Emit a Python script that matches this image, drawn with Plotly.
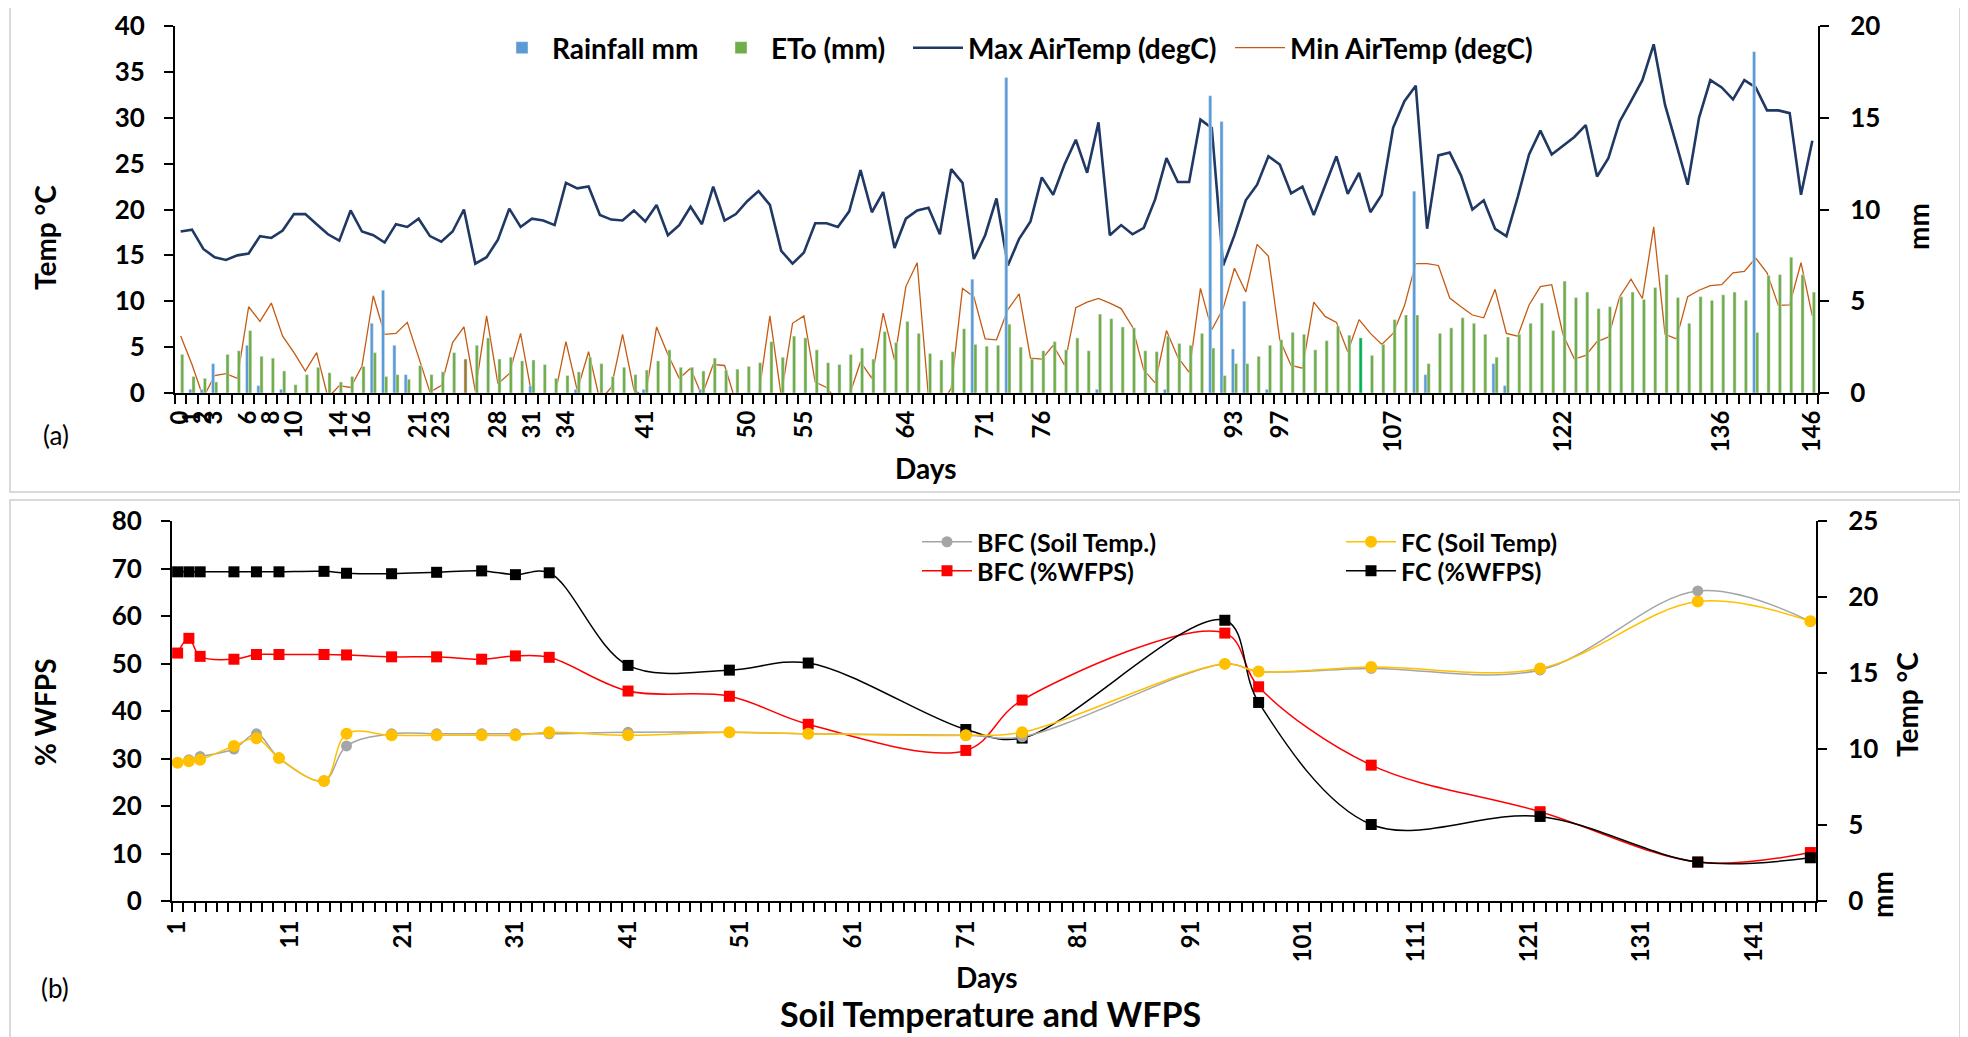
import plotly.graph_objects as go

# ---------------- Panel (a) data: daily weather (category index 0..144) ----------------
cat_idx = list(range(145))

rainfall_mm = [0, 0.2, 0.2, 1.6, 0, 0, 2.6, 0.4, 0, 0.2,
               0, 0, 0, 0, 0, 0, 0, 3.8, 5.6, 2.6,
               1.0, 0, 0, 0, 0, 0, 0, 0, 0, 0,
               0, 0.4, 0, 0, 0, 0.2, 0, 0, 0, 0,
               0, 0.2, 0, 0, 0, 0, 0.2, 0, 0, 0,
               0, 0, 0, 0, 0, 0, 0, 0, 0, 0,
               0, 0, 0, 0, 0, 0, 0, 0, 0, 0,
               6.2, 0, 0, 17.2, 0, 0, 0, 0, 0, 0,
               0, 0.2, 0, 0, 0, 0, 0, 0.2, 0, 0,
               0, 16.2, 14.8, 2.4, 5.0, 0, 0.2, 0, 0, 0,
               0, 0, 0, 0, 0, 0, 0, 0, 0, 11.0,
               1.0, 0, 0, 0, 0, 0, 1.6, 0.4, 0, 0,
               0, 0, 0, 0, 0, 0, 0, 0, 0, 0,
               0, 0, 0, 0, 0, 0, 0, 0, 0, 18.6,
               0, 0, 0, 0, 0]

eto_mm = [2.1, 0.9, 0.8, 0.6, 2.1, 2.3, 3.4, 2.0, 1.9, 1.2,
          0.45, 1.0, 1.4, 1.1, 0.6, 0.9, 1.45, 2.2, 0.9, 1.0,
          0.75, 1.5, 1.0, 1.15, 2.2, 1.85, 2.6, 3.0, 1.85, 1.95,
          1.75, 1.8, 1.55, 0.8, 0.95, 1.15, 1.95, 1.6, 0.9, 1.4,
          1.0, 1.25, 1.75, 2.35, 1.4, 1.4, 1.2, 1.9, 1.25, 1.3,
          1.45, 1.65, 2.8, 1.95, 3.1, 3.0, 2.35, 1.65, 1.55, 2.1,
          2.45, 1.85, 3.35, 2.75, 3.9, 3.25, 2.15, 1.8, 2.25, 3.5,
          2.65, 2.55, 2.6, 3.75, 2.5, 1.85, 2.3, 2.8, 2.35, 3.0,
          2.3, 4.3, 4.05, 3.6, 3.55, 2.3, 2.25, 3.1, 2.7, 2.6,
          3.25, 2.45, 0.95, 1.6, 1.6, 2.0, 2.6, 2.9, 3.3, 3.2,
          2.35, 2.85, 3.65, 3.15, 3.0, 2.05, 2.65, 4.0, 4.25, 4.25,
          1.6, 3.25, 3.55, 4.1, 3.8, 3.2, 1.95, 3.05, 3.2, 3.8,
          4.9, 3.4, 6.1, 5.2, 5.5, 4.6, 4.7, 5.25, 5.5, 5.1,
          5.75, 6.45, 5.2, 3.8, 5.25, 5.05, 5.35, 5.5, 5.05, 3.3,
          6.4, 6.45, 7.4, 6.45, 5.5]

max_air_temp = [17.6, 17.8, 15.7, 14.8, 14.5, 15.0, 15.2, 17.1, 16.9, 17.7,
                19.5, 19.5, 18.4, 17.3, 16.6, 19.9, 17.6, 17.2, 16.4, 18.4,
                18.1, 19.0, 17.1, 16.5, 17.6, 20.0, 14.1, 14.8, 16.7, 20.1,
                18.1, 19.0, 18.8, 18.3, 22.9, 22.3, 22.5, 19.4, 18.9, 18.8,
                19.9, 18.7, 20.5, 17.2, 18.3, 20.3, 18.4, 22.5, 18.8, 19.5,
                20.9, 22.0, 20.5, 15.5, 14.1, 15.3, 18.5, 18.5, 18.1, 19.8,
                24.3, 19.7, 21.9, 15.8, 19.0, 19.9, 20.2, 17.3, 24.4, 22.9,
                14.6, 17.2, 21.2, 13.9, 16.8, 18.7, 23.5, 21.6, 24.9, 27.6,
                24.0, 29.5, 17.2, 18.3, 17.3, 18.0, 21.1, 25.6, 23.0, 23.0,
                29.8, 28.9, 13.9, 17.2, 21.0, 22.7, 25.8, 24.9, 21.75, 22.5,
                19.4, 22.6, 25.8, 21.7, 24.0, 19.7, 21.6, 28.9, 31.8, 33.5,
                17.9, 25.9, 26.2, 23.7, 20.0, 21.0, 17.9, 17.1, 21.35, 26.0,
                28.6, 26.0, 26.9, 27.9, 29.2, 23.6, 25.6, 29.6, 31.8, 34.1,
                38.0, 31.4, 27.1, 22.7, 30.0, 34.1, 33.3, 32.0, 34.1, 33.3,
                30.8, 30.8, 30.5, 21.6, 27.5]

min_air_temp = [6.2, 3.1, -0.5, 1.9, 2.1, 1.6, 9.4, 7.8, 9.8, 6.2,
                4.4, 2.4, 4.4, -0.5, 0.8, 0.6, 2.9, 10.6, 6.4, 6.5,
                7.7, 4.0, 0.1, 0.8, 5.5, 7.2, 0.2, 8.4, 1.0, 2.1,
                6.5, -0.3, -1.0, -0.4, 5.6, 0.3, 4.5, -0.8, 0.6, 6.4,
                0.35, -0.5, 7.2, 4.2, 1.6, 2.7, -0.3, 3.1, 3.0, -1.0,
                -1.5, -0.3, 8.4, -0.3, 7.6, 8.4, 1.2, 0.6, -1.0, -0.3,
                3.4, 1.6, 8.7, 3.6, 11.6, 14.2, -0.5, -1.5, 0.5, 11.4,
                10.5, 5.9, 5.8, 9.1, 10.8, 3.8, 3.7, 5.2, 3.05, 9.3,
                9.9, 10.3, 9.8, 9.2, 7.2, 2.5, 1.1, 6.8, 3.9, 2.25,
                11.4, 6.9, 9.2, 13.6, 11.0, 16.2, 14.9, 5.8, 3.0, 2.7,
                9.9, 8.35, 7.7, 4.5, 8.0, 6.5, 5.3, 6.5, 9.5, 14.1,
                14.1, 13.9, 10.35, 9.4, 8.5, 8.2, 11.3, 6.5, 6.2, 9.6,
                11.6, 11.8, 6.35, 3.7, 4.1, 5.6, 6.1, 10.5, 12.4, 10.3,
                18.1, 6.4, 5.9, 10.5, 11.2, 11.7, 11.8, 13.1, 13.25, 14.7,
                13.1, 9.55, 9.6, 14.2, 8.4]

top_tick_idx = [0, 1, 2, 3, 6, 8, 10, 14, 16, 21, 23, 28, 31, 34, 41, 50, 55, 64,
                71, 76, 93, 97, 107, 122, 136, 144]
top_tick_text = ["0", "1", "2", "3", "6", "8", "10", "14", "16", "21", "23", "28", "31",
                 "34", "41", "50", "55", "64", "71", "76", "93", "97", "107", "122",
                 "136", "146"]

# ---------------- Panel (b) data: sampling days ----------------
sample_days = [1, 2, 3, 6, 8, 10, 14, 16, 20, 24, 28, 31, 34, 41, 50, 57, 71, 76,
               94, 97, 107, 122, 136, 146]
bfc_soil_temp = [9.1, 9.3, 9.5, 10.0, 11.0, 9.4, 7.9, 10.2, 11.0, 11.0, 11.0, 11.0,
                 11.0, 11.1, 11.1, 11.0, 10.9, 10.8, 15.6, 15.1, 15.3, 15.2, 20.4, 18.4]
fc_soil_temp = [9.1, 9.2, 9.3, 10.2, 10.7, 9.4, 7.9, 11.0, 10.9, 10.9, 10.9, 10.9,
                11.1, 10.9, 11.1, 11.0, 10.9, 11.1, 15.6, 15.1, 15.4, 15.3, 19.7, 18.4]
bfc_wfps = [52.2, 55.3, 51.5, 50.9, 51.9, 51.9, 51.9, 51.8, 51.4, 51.4, 50.9, 51.6,
            51.3, 44.2, 43.1, 37.2, 31.7, 42.3, 56.4, 45.1, 28.6, 18.8, 8.2, 10.2]
fc_wfps = [69.3, 69.3, 69.3, 69.3, 69.3, 69.3, 69.4, 69.0, 68.9, 69.2, 69.5, 68.7,
           69.1, 49.6, 48.6, 50.1, 36.1, 34.3, 59.1, 41.8, 16.1, 17.8, 8.2, 9.1]

# ---------------- styling ----------------
# The page body has an 8 px default margin, so the figure is drawn 8 px in from
# the window's top-left corner; positions below are given in window pixels.
OFF = 8
W, H = 1968 - OFF, 1037 - OFF
FONT = "Lato"
BLUE = "#5B9BD5"
GREEN = "#70AD47"
eto_colors = [GREEN] * len(eto_mm)
eto_colors[25] = "#9A7A30"
eto_colors[104] = "#00B050"


def fx(p):
    return (p - OFF) / W


def fy(p):
    return 1 - (p - OFF) / H


fig = go.Figure()

# Panel (a)
fig.add_trace(go.Bar(x=cat_idx, y=rainfall_mm, name="Rainfall mm", marker_color=BLUE,
                     xaxis="x", yaxis="y2", legend="legend"))
fig.add_trace(go.Bar(x=cat_idx, y=eto_mm, name="ETo (mm)", marker_color=eto_colors,
                     xaxis="x", yaxis="y2", legend="legend2"))
fig.add_trace(go.Scatter(x=cat_idx, y=max_air_temp, name="Max AirTemp (degC)", mode="lines",
                         line=dict(color="#203864", width=2.6), xaxis="x", yaxis="y",
                         legend="legend3"))
fig.add_trace(go.Scatter(x=cat_idx, y=min_air_temp, name="Min AirTemp (degC)", mode="lines",
                         line=dict(color="#C55A11", width=1.3), xaxis="x", yaxis="y",
                         legend="legend4"))

# Panel (b)
fig.add_trace(go.Scatter(x=sample_days, y=bfc_wfps, name="BFC (%WFPS)", mode="lines+markers",
                         line=dict(color="#FF0000", width=1.5, shape="spline", smoothing=1),
                         marker=dict(symbol="square", size=11, color="#FF0000"),
                         xaxis="x2", yaxis="y3", legend="legend7"))
fig.add_trace(go.Scatter(x=sample_days, y=fc_wfps, name="FC (%WFPS)", mode="lines+markers",
                         line=dict(color="#000000", width=1.5, shape="spline", smoothing=1),
                         marker=dict(symbol="square", size=11, color="#000000"),
                         xaxis="x2", yaxis="y3", legend="legend8"))
fig.add_trace(go.Scatter(x=sample_days, y=bfc_soil_temp, name="BFC (Soil Temp.)",
                         mode="lines+markers",
                         line=dict(color="#A5A5A5", width=1.5, shape="spline", smoothing=1),
                         marker=dict(symbol="circle", size=11, color="#A5A5A5"),
                         xaxis="x2", yaxis="y4", legend="legend5"))
fig.add_trace(go.Scatter(x=sample_days, y=fc_soil_temp, name="FC (Soil Temp)",
                         mode="lines+markers",
                         line=dict(color="#FFC000", width=1.5, shape="spline", smoothing=1),
                         marker=dict(symbol="circle", size=12, color="#FFC000"),
                         xaxis="x2", yaxis="y4", legend="legend6"))

ytickfont = dict(family=FONT, size=26, color="black", weight="bold")
xtickfont = dict(family=FONT, size=24, color="black", weight="bold")
ax_common = dict(showgrid=False, zeroline=False, showline=True, linecolor="black",
                 linewidth=2, automargin=False)
yax_common = dict(ax_common, ticks="outside", ticklen=9, tickwidth=2, tickcolor="black",
                  tickfont=ytickfont)


def one_legend(xpix, ypix, size):
    return dict(orientation="v", x=fx(xpix), y=fy(ypix), xanchor="left", yanchor="middle",
                font=dict(family=FONT, size=size, color="black", weight="bold"),
                itemwidth=50, bgcolor="rgba(0,0,0,0)", borderwidth=0, visible=True)


fig.update_layout(
    width=W, height=H,
    showlegend=True,
    margin=dict(l=0, r=0, t=0, b=0, autoexpand=False),
    paper_bgcolor="white", plot_bgcolor="white",
    barmode="group", bargap=0.45, bargroupgap=0,
    xaxis=dict(ax_common, domain=[fx(175), fx(1818)], anchor="y", range=[-0.5, 144.5],
               tickmode="array", tickvals=top_tick_idx, ticktext=top_tick_text,
               tickangle=-90, ticks="", ticklabelstandoff=6, tickfont=xtickfont,
               minor=dict(ticks="outside", tickmode="linear", tick0=-0.5, dtick=1,
                          ticklen=9, tickwidth=2, tickcolor="black")),
    yaxis=dict(yax_common, domain=[fy(393), fy(26)], anchor="x", range=[0, 40], dtick=5,
               ticklabelstandoff=14),
    yaxis2=dict(yax_common, overlaying="y", side="right", anchor="x", range=[0, 20],
                dtick=5, ticklabelstandoff=16),
    xaxis2=dict(ax_common, domain=[fx(172), fx(1816)], anchor="y3", range=[0.5, 146.5],
                tickmode="linear", tick0=1, dtick=10, tickangle=-90, ticks="",
                ticklabelstandoff=8, tickfont=xtickfont,
                minor=dict(ticks="outside", tickmode="linear", tick0=0.5, dtick=1,
                           ticklen=9, tickwidth=2, tickcolor="black")),
    yaxis3=dict(yax_common, domain=[fy(901), fy(521)], anchor="x2", range=[0, 80], dtick=10,
                ticklabelstandoff=14),
    yaxis4=dict(yax_common, overlaying="y3", side="right", anchor="x2", range=[0, 25],
                dtick=5, ticklabelstandoff=16),
    legend=one_legend(492, 48, 28),
    legend2=one_legend(711, 48, 28),
    legend3=one_legend(908, 48, 28),
    legend4=one_legend(1230, 48, 28),
    legend5=one_legend(917, 542, 25),
    legend6=one_legend(1341, 542, 25),
    legend7=one_legend(917, 571, 25),
    legend8=one_legend(1341, 571, 25),
    shapes=[
        dict(type="rect", xref="paper", yref="paper", x0=fx(10), x1=fx(1960),
             y0=fy(492), y1=fy(7), line=dict(color="#D9D9D9", width=2)),
        dict(type="rect", xref="paper", yref="paper", x0=fx(10), x1=fx(1960),
             y0=fy(1045), y1=fy(500), line=dict(color="#D9D9D9", width=2)),
    ],
)

bold = dict(family=FONT, color="black", weight="bold")
annos = [
    dict(text="Temp °C", x=fx(45), y=fy(238), textangle=-90, font=dict(bold, size=28)),
    dict(text="mm", x=fx(1918), y=fy(227), textangle=-90, font=dict(bold, size=28)),
    dict(text="Days", x=fx(926), y=fy(468), font=dict(bold, size=28)),
    dict(text="(a)", x=fx(56), y=fy(435), font=dict(family=FONT, color="black", size=26)),
    dict(text="% WFPS", x=fx(45), y=fy(712), textangle=-90, font=dict(bold, size=28)),
    dict(text="Temp °C", x=fx(1907), y=fy(705), textangle=-90, font=dict(bold, size=28)),
    dict(text="mm", x=fx(1882), y=fy(895), textangle=-90, font=dict(bold, size=28)),
    dict(text="Days", x=fx(987), y=fy(977), font=dict(bold, size=28)),
    dict(text="(b)", x=fx(55), y=fy(988), font=dict(family=FONT, color="black", size=26)),
    dict(text="Soil Temperature and WFPS", x=fx(990), y=fy(1013), font=dict(bold, size=34)),
]
for a in annos:
    a.update(xref="paper", yref="paper", showarrow=False, xanchor="center", yanchor="middle")
fig.update_layout(annotations=annos)

fig.write_html("out.html")
